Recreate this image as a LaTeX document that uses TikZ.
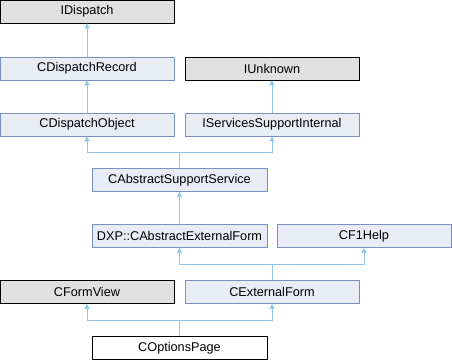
\documentclass[tikz,border=0pt]{standalone}
\usepackage{fontspec}
\setmainfont{Liberation Sans}
\usetikzlibrary{arrows.meta}
\definecolor{boxfill}{HTML}{E8ECF5}
\definecolor{boxline}{HTML}{7C8FC4}
\definecolor{edgecol}{HTML}{8EC5E9}
\definecolor{grayfill}{HTML}{E0E0E0}
\begin{document}
\begin{tikzpicture}[x=1pt,y=-1pt,
  cls/.style={draw=boxline, fill=boxfill, line width=0.8pt, minimum height=23pt, inner sep=0pt, font=\fontsize{12.7}{14}\selectfont},
  ext/.style={cls, draw=black, fill=grayfill},
  cur/.style={cls, draw=black, fill=white},
  edge/.style={draw=edgecol, line width=0.9pt, -{Triangle[width=5pt,length=5pt]}}]
\useasboundingbox (0,0) rectangle (452,360);
\node[ext, minimum width=174pt] (idisp) at (87,11.5) {IDispatch};
\node[cls, minimum width=174pt] (cdr) at (87,68.5) {CDispatchRecord};
\node[ext, minimum width=174pt] (iunk) at (272,68.5) {IUnknown};
\node[cls, minimum width=174pt] (cdo) at (87,124.5) {CDispatchObject};
\node[cls, minimum width=174pt] (issi) at (272,124.5) {IServicesSupportInternal};
\node[cls, minimum width=175pt] (cass) at (179.5,180) {CAbstractSupportService};
\node[cls, minimum width=175pt] (dxp) at (179.5,236) {DXP::CAbstractExternalForm};
\node[cls, minimum width=174pt] (cf1) at (364,236) {CF1Help};
\node[ext, minimum width=174pt] (cfv) at (87,292) {CFormView};
\node[cls, minimum width=174pt] (cef) at (272,292) {CExternalForm};
\node[cur, minimum width=175pt] (cop) at (179.5,348) {COptionsPage};
\draw[edge] (cdr.north) -- (idisp.south);
\draw[edge] (cdo.north) -- (cdr.south);
\draw[edge] (issi.north) -- (iunk.south);
\draw[edge] (dxp.north) -- (cass.south);
\coordinate (j1) at (cass.north |- 0,152);
\draw[edge] (cass.north) -- (j1) -| (cdo.south);
\draw[edge] (j1) -| (issi.south);
\coordinate (j2) at (cef.north |- 0,264);
\draw[edge] (cef.north) -- (j2) -| (dxp.south);
\draw[edge] (j2) -| (cf1.south);
\coordinate (j3) at (cop.north |- 0,320);
\draw[edge] (cop.north) -- (j3) -| (cfv.south);
\draw[edge] (j3) -| (cef.south);
\end{tikzpicture}
\end{document}
